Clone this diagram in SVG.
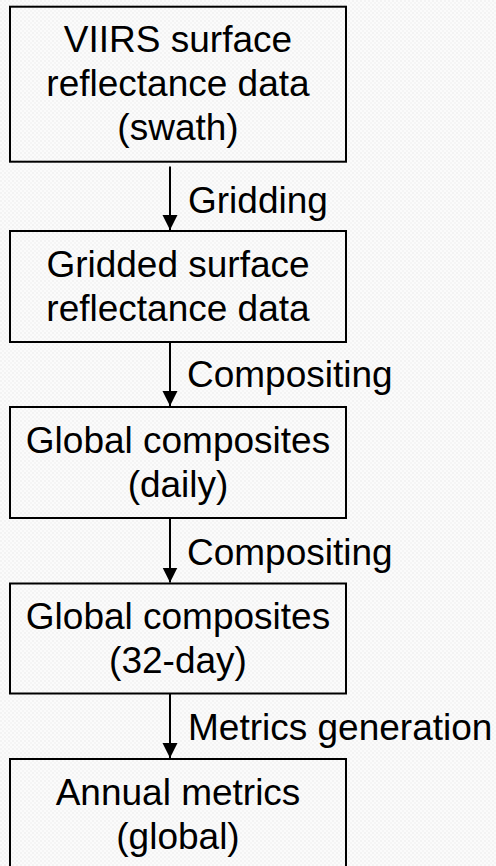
<svg xmlns="http://www.w3.org/2000/svg" width="496" height="866" viewBox="0 0 496 866">
  <defs>
    <pattern id="tex" width="4" height="4" patternUnits="userSpaceOnUse">
      <rect width="4" height="4" fill="#fbfbfb"/>
      <rect x="0" y="0" width="2" height="2" fill="#f3f3f3"/>
      <rect x="2" y="2" width="2" height="2" fill="#f5f5f5"/>
    </pattern>
    <marker id="ah" markerUnits="userSpaceOnUse" markerWidth="16" markerHeight="16" refX="15" refY="7.5" orient="auto">
      <path d="M0,0 L15,7.5 L0,15 Z" fill="#000"/>
    </marker>
    <style>
      .box { fill: none; stroke: #000; stroke-width: 2; }
      .t { font-family: "Liberation Sans", Arial, sans-serif; font-size: 37px; fill: #000; }
      .c { text-anchor: middle; }
      .conn line { stroke: #000; stroke-width: 2; marker-end: url(#ah); }
    </style>
  </defs>
  <rect width="496" height="866" fill="url(#tex)"/>

  <g id="n1">
    <rect class="box" x="10" y="6.7" width="336" height="155"/>
    <text class="t c" x="178" y="52">VIIRS surface</text>
    <text class="t c" x="178" y="96">reflectance data</text>
    <text class="t c" x="178" y="140">(swath)</text>
  </g>
  <g id="n2">
    <rect class="box" x="10" y="231" width="336" height="111"/>
    <text class="t c" x="178" y="277">Gridded surface</text>
    <text class="t c" x="178" y="321">reflectance data</text>
  </g>
  <g id="n3">
    <rect class="box" x="10" y="407" width="336" height="111"/>
    <text class="t c" x="178" y="453">Global composites</text>
    <text class="t c" x="178" y="497">(daily)</text>
  </g>
  <g id="n4">
    <rect class="box" x="10" y="583.5" width="336" height="110"/>
    <text class="t c" x="178" y="628.5">Global composites</text>
    <text class="t c" x="178" y="672.5">(32-day)</text>
  </g>
  <g id="n5">
    <rect class="box" x="10" y="759" width="336" height="120"/>
    <text class="t c" x="178" y="805">Annual metrics</text>
    <text class="t c" x="178" y="849">(global)</text>
  </g>

  <g id="connectors" class="conn">
    <line x1="170" y1="166.5" x2="170" y2="230"/>
    <line x1="170" y1="342" x2="170" y2="406"/>
    <line x1="170" y1="518" x2="170" y2="582.5"/>
    <line x1="170" y1="693.5" x2="170" y2="758"/>
    <text class="t" x="188" y="213">Gridding</text>
    <text class="t" x="187" y="387">Compositing</text>
    <text class="t" x="187" y="565">Compositing</text>
    <text class="t" x="188" y="740">Metrics generation</text>
  </g>
</svg>
